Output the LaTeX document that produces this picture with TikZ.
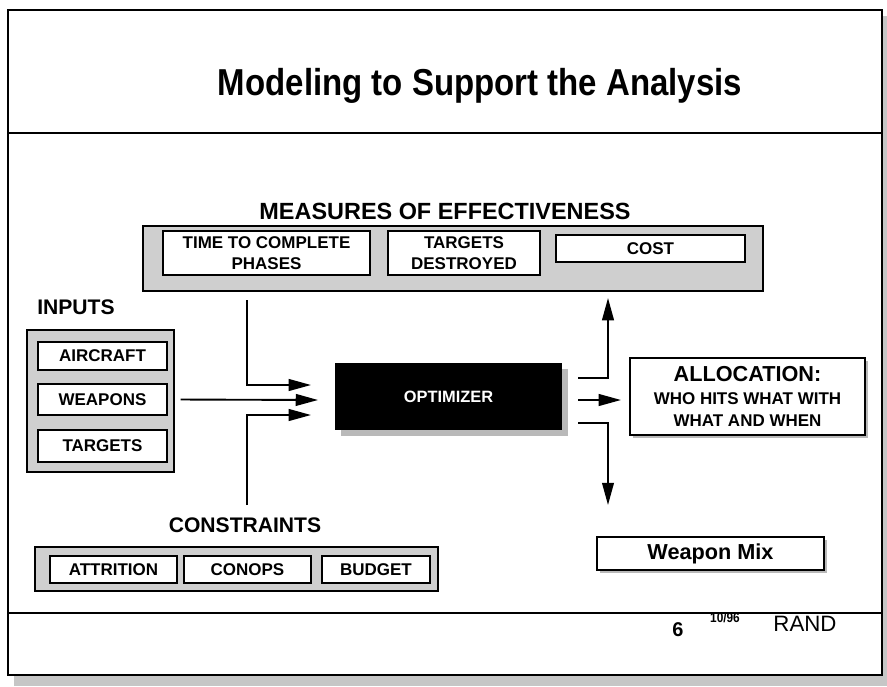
\documentclass[tikz,border=0pt]{standalone}
\usepackage{fontspec}
\setmainfont{Liberation Sans}
\newfontfamily\titlefont{Liberation Sans}[FakeStretch=0.88]
\usetikzlibrary{arrows.meta,shadows}

\begin{document}
\begin{tikzpicture}[x=0.03cm,y=-0.03cm,
        sz/.style 2 args={minimum width=#1*0.03cm,minimum height=#2*0.03cm},
        panel/.style={draw,line width=1.4pt,fill=gray!38,inner sep=0pt,
            drop shadow={shadow xshift=1.2pt,shadow yshift=-1.2pt,fill=black,opacity=1}},
        item/.style={draw,line width=1.4pt,fill=white,inner sep=0pt,align=center,
            font=\bfseries\fontsize{14.5}{18}\selectfont,
            drop shadow={shadow xshift=1.2pt,shadow yshift=-1.2pt,fill=black,opacity=1}},
        result/.style={draw,line width=1.4pt,fill=white,inner sep=0pt,align=center,
            drop shadow={shadow xshift=2.5pt,shadow yshift=-2.5pt,fill=gray!55,opacity=1}},
        head/.style={font=\bfseries\fontsize{18}{20}\selectfont},
        feed/.style={line width=1.6pt,-{Triangle[length=19pt,width=10pt]}}]
        \useasboundingbox[fill=white] (0,0) rectangle (887,686);

        % slide frame
        \fill[gray!45] (14,676) rectangle (887,686);
        \fill[gray!45] (883,16) rectangle (887,686);
        \draw[line width=1.3pt] (8,10) rectangle (882,675);
        \draw[line width=1.3pt] (8,133) -- (882,133);
        \draw[line width=1.3pt] (8,613) -- (882,613);
        \node[font=\titlefont\bfseries\fontsize{32}{36}\selectfont] (title) at (480,86)
            {Modeling to Support the Analysis};

        % measures of effectiveness
        \node[head,font=\bfseries\fontsize{20}{22}\selectfont] (moehead) at (445,211)
            {MEASURES OF EFFECTIVENESS};
        \node[panel,sz={620}{65}] (moe) at (453,258.5) {};
        \node[item,sz={207}{44}] (phases) at (266.5,253) {TIME TO COMPLETE\\PHASES};
        \node[item,sz={152}{44}] (destroyed) at (464,253) {TARGETS\\DESTROYED};
        \node[item,sz={189}{27}] (cost) at (650.5,248.5) {COST};

        % inputs
        \node[head] (inhead) at (76,307) {INPUTS};
        \node[panel,sz={147}{142}] (inputs) at (100.5,401) {};
        \node[item,sz={129}{28}] (aircraft) at (102.5,356) {AIRCRAFT};
        \node[item,sz={129}{31}] (weapons) at (102.5,399.5) {WEAPONS};
        \node[item,sz={129}{32}] (targets) at (102.5,446) {TARGETS};

        % constraints
        \node[head] (conhead) at (245,525) {CONSTRAINTS};
        \node[panel,sz={403}{44}] (cons) at (236.5,569) {};
        \node[item,sz={127}{27}] (attrition) at (113.5,569.5) {ATTRITION};
        \node[item,sz={127}{27}] (conops) at (247.5,569.5) {CONOPS};
        \node[item,sz={108}{27}] (budget) at (376,569.5) {BUDGET};

        % optimizer and outputs
        \node[fill=black,inner sep=0pt,text=white,font=\bfseries\fontsize{14}{16}\selectfont,
            drop shadow={shadow xshift=5pt,shadow yshift=-5pt,fill=gray!55,opacity=1},
            sz={227}{67}] (opt) at (448.5,396.5) {OPTIMIZER};
        \node[result,sz={235}{77},font=\bfseries\fontsize{14.5}{19}\selectfont] (alloc) at (747.5,396.5)
            {{\fontsize{18.5}{20}\selectfont ALLOCATION:}\\[1pt]WHO HITS WHAT WITH\\WHAT AND WHEN};
        \node[result,sz={227}{33},font=\bfseries\fontsize{18.5}{20}\selectfont] (mix) at (710.5,553.5)
            {Weapon Mix};

        % arrows into the optimizer
        \coordinate (mtop) at (247,300);
        \coordinate (mbot) at (247,505);
        \coordinate (in1) at (311,385);
        \coordinate (in2) at (318,400);
        \coordinate (in3) at (311,415);
        \draw[feed] (mtop) |- (in1);
        \draw[feed,shorten <=5pt] (inputs.east |- weapons.east) -- (in2);
        \draw[feed] (mbot) |- (in3);

        % arrows out of it
        \coordinate (out1) at (578,378);
        \coordinate (out2) at (578,400);
        \coordinate (out3) at (578,423);
        \coordinate (up) at (608,298);
        \coordinate (down) at (608,505);
        \draw[feed] (out1) -| (up);
        \draw[feed,shorten >=7pt] (out2) -- (alloc.west |- out2);
        \draw[feed] (out3) -| (down);

        % footer
        \node[font=\bfseries\fontsize{17}{19}\selectfont] (page) at (678,630) {6};
        \node[font=\titlefont\bfseries\fontsize{11.5}{12}\selectfont] (date) at (725,618) {10/96};
        \node[font=\fontsize{19}{21}\selectfont] (rand) at (805,624) {RAND};
\end{tikzpicture}
\end{document}
